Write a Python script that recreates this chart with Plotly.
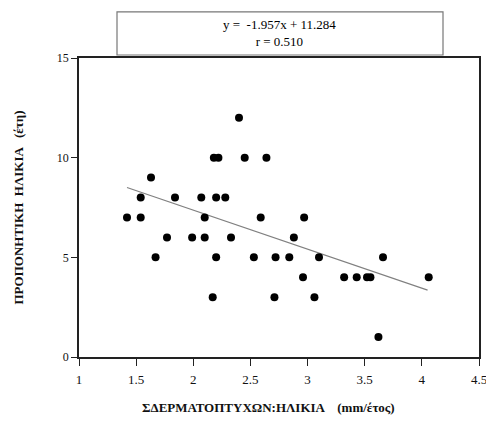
import plotly.graph_objects as go

# Data
x_vals = [1.42, 1.54, 2.10, 2.59, 2.97,
          1.77, 1.99, 2.10, 2.33, 2.88,
          1.54, 1.84, 2.07, 2.20, 2.28,
          1.67, 2.20, 2.53, 2.72, 2.84, 3.10, 3.66,
          2.96, 3.32, 3.43, 3.52, 3.55, 4.06,
          2.17, 2.71, 3.06,
          3.62,
          1.63,
          2.18, 2.22, 2.45, 2.64,
          2.40]
y_vals = [7, 7, 7, 7, 7,
          6, 6, 6, 6, 6,
          8, 8, 8, 8, 8,
          5, 5, 5, 5, 5, 5, 5,
          4, 4, 4, 4, 4, 4,
          3, 3, 3,
          1,
          9,
          10, 10, 10, 10,
          12]

slope = -1.957
intercept = 11.284
r_value = 0.510
line_x = [1.42, 4.05]
line_y = [slope * v + intercept for v in line_x]

x_ticks = [1, 1.5, 2, 2.5, 3, 3.5, 4, 4.5]
y_ticks = [0, 5, 10, 15]

x_title = "ΣΔΕΡΜΑΤΟΠΤΥΧΩΝ:ΗΛΙΚΙΑ    (mm/έτος)"
y_title = "ΠΡΟΠΟΝΗΤΙΚΗ  ΗΛΙΚΙΑ   (έτη)"

serif = "Liberation Serif, Times New Roman, serif"

fig = go.Figure()
fig.add_trace(go.Scatter(x=line_x, y=line_y, mode="lines",
                         line=dict(color="#808080", width=1.2),
                         showlegend=False, hoverinfo="skip"))
fig.add_trace(go.Scatter(x=x_vals, y=y_vals, mode="markers",
                         marker=dict(color="black", size=8),
                         showlegend=False))

fig.update_layout(
    width=486, height=407,
    margin=dict(l=71, r=15, t=50, b=58),
    paper_bgcolor="white", plot_bgcolor="white",
    font=dict(family=serif, color="black", size=13),
    xaxis=dict(range=[1, 4.5], tickvals=x_ticks,
               ticktext=[str(t) for t in x_ticks],
               showgrid=False, zeroline=False, automargin=False,
               showline=True, linecolor="#222", linewidth=1.5, mirror=True,
               ticks="outside", ticklen=7, tickcolor="#222", tickwidth=1.2,
               ticklabelstandoff=3, ticklabeloverflow="allow",
               tickfont=dict(family=serif, size=13, color="#111")),
    yaxis=dict(range=[0, 15], tickvals=y_ticks,
               showgrid=False, zeroline=False, automargin=False,
               showline=True, linecolor="#222", linewidth=1.5, mirror=True,
               ticks="outside", ticklen=6, tickcolor="#222", tickwidth=1.2,
               tickfont=dict(family=serif, size=12, color="#111"),
               title=dict(text=f"<b>{y_title}</b>",
                          font=dict(family=serif, size=13, color="#111"),
                          standoff=30)),
    shapes=[dict(type="rect", xref="paper", yref="paper",
                 x0=0.095, x1=0.91, y0=1.01, y1=1.154,
                 line=dict(color="#777", width=1.2), fillcolor="white")],
    annotations=[
        dict(xref="paper", yref="paper", x=0.5, y=1.082,
             xanchor="center", yanchor="middle",
             text=f"y =  {slope}x + {intercept}<br>r = {r_value:.3f}",
             showarrow=False, align="center",
             font=dict(family=serif, size=13, color="black")),
        dict(xref="paper", yref="paper", x=0.473, y=-0.168,
             xanchor="center", yanchor="middle",
             text=f"<b>{x_title}</b>", showarrow=False,
             font=dict(family=serif, size=13, color="#111")),
    ],
)

fig.write_html("out.html")
